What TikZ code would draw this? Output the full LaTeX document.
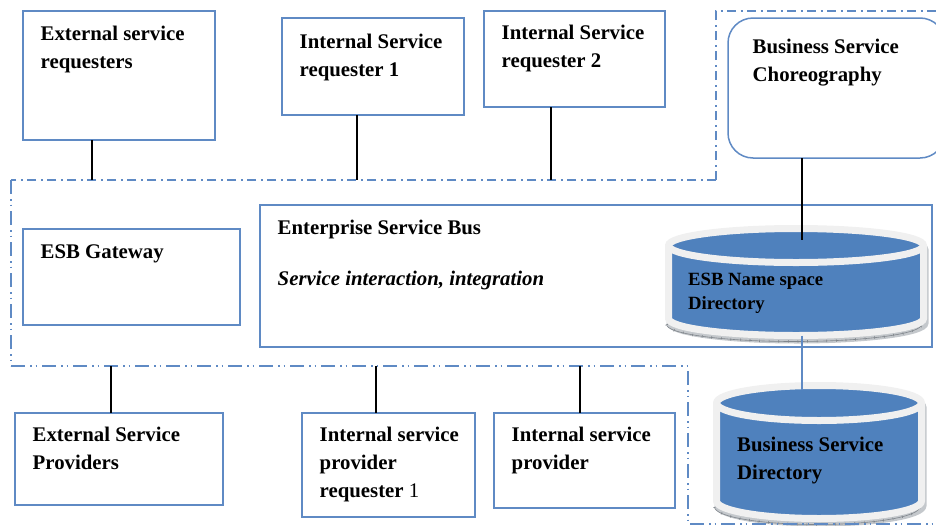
\documentclass[tikz,border=0pt]{standalone}
\usepackage{xcolor}
\usepackage{fontspec}
\setmainfont{Liberation Serif}
\usepackage{tikz}
\usetikzlibrary{positioning}
\definecolor{boxblue}{HTML}{5F8AC4}
\definecolor{canblue}{HTML}{4F81BD}
\definecolor{canrim}{HTML}{F0F0F0}
\definecolor{canedge}{HTML}{C4C8CC}
\definecolor{cantick}{HTML}{80868C}
% centre x, top y, x radius, y radius, side length, name
\newcommand{\dbcan}[6]{%
  \path[fill=canedge,draw=canedge,line width=7pt] (#1-#3+1.5,#2+4.5) arc[start angle=180,end angle=0,x radius=#3pt,y radius=#4pt] -- (#1+#3+1.5,#2+#5+4.5) arc[start angle=0,end angle=-180,x radius=#3pt,y radius=#4pt] -- cycle;
  \draw[cantick,line width=.6pt] (#1-#3-2,#2+#5+6) arc[start angle=180,end angle=360,x radius=#3pt,y radius=#4pt];
  \draw[cantick,line width=2.5pt,dash pattern=on .6pt off 9pt] (#1-#3-2,#2+#5+6) arc[start angle=180,end angle=360,x radius=#3pt,y radius=#4pt];
  \path[fill=canblue,draw=canrim,line width=7pt] (#1-#3,#2) arc[start angle=180,end angle=0,x radius=#3pt,y radius=#4pt] -- (#1+#3,#2+#5) arc[start angle=0,end angle=-180,x radius=#3pt,y radius=#4pt] -- cycle;
  \draw[canrim,line width=7pt] (#1-#3,#2) arc[start angle=180,end angle=360,x radius=#3pt,y radius=#4pt];
  \coordinate (#6 top) at (#1,#2-#4);
  \coordinate (#6 bottom) at (#1,#2+#5+#4);
}

\begin{document}
\begin{tikzpicture}[x=1pt,y=-1pt,
    bluebox/.style={draw=boxblue,line width=1.5pt,anchor=north west,inner sep=0pt,outer sep=0pt},
    boxtext/.style={inner sep=0pt,align=left,anchor=north west,font=\fontsize{20.8}{28}\selectfont\bfseries},
    cantext/.style={boxtext,font=\fontsize{18.7}{24}\selectfont\bfseries},
    link/.style={draw=black,line width=1.5pt},
    bluelink/.style={draw=boxblue,line width=1.5pt},
    frametop/.style={draw=boxblue,line width=1.7pt,dash pattern=on 9pt off 4.5pt on 2pt off 4.5pt},
    framebot/.style={draw=boxblue,line width=1.7pt,dash pattern=on 14pt off 5pt on 1.5pt off 4pt on 1.5pt off 5pt}]
  \useasboundingbox (0,0) rectangle (936,525);

  % requesters along the top
  \node[bluebox,minimum width=192pt,minimum height=129pt] (extreq) at (23,11) {};
  \node[bluebox,minimum width=182pt,minimum height=97pt] (intreqa) at (282,18) {};
  \node[bluebox,minimum width=181pt,minimum height=96pt] (intreqb) at (484,11) {};
  \node[bluebox,rounded corners=25pt,minimum width=217pt,minimum height=140pt] (chor) at (728,18) {};
  \node[boxtext,below right=15pt and 17.5pt of extreq.north west] (extreqtxt) {External service\\requesters};
  \node[boxtext,below right=16pt and 17.5pt of intreqa.north west] (intreqatxt) {Internal Service\\requester 1};
  \node[boxtext,below right=14pt and 17.5pt of intreqb.north west] (intreqbtxt) {Internal Service\\requester 2};
  \node[boxtext,below right=21pt and 24.5pt of chor.north west] (chortxt) {Business Service\\Choreography};

  % middle row
  \node[bluebox,minimum width=217pt,minimum height=96pt] (gate) at (23,229) {};
  \node[bluebox,minimum width=672pt,minimum height=142pt] (bus) at (260,205) {};
  \node[boxtext,below right=16pt and 17.5pt of gate.north west] (gatetxt) {ESB Gateway};
  \node[boxtext,below right=15pt and 17.5pt of bus.north west] (bustxt) {Enterprise Service Bus\\[23pt]\textit{Service interaction, integration}};

  % providers along the bottom
  \node[bluebox,minimum width=208pt,minimum height=92pt] (extprov) at (15,413) {};
  \node[bluebox,minimum width=173pt,minimum height=104pt] (intprova) at (302,413) {};
  \node[bluebox,minimum width=181pt,minimum height=95pt] (intprovb) at (494,413) {};
  \node[boxtext,below right=14pt and 17.5pt of extprov.north west] (extprovtxt) {External Service\\Providers};
  \node[boxtext,below right=14pt and 17.5pt of intprova.north west] (intprovatxt) {Internal service\\provider\\requester \textnormal{1}};
  \node[boxtext,below right=14pt and 17.5pt of intprovb.north west] (intprovbtxt) {Internal service\\provider};

  % directories
  \dbcan{796}{245.5}{127.5}{17}{73}{nsdir}
  \dbcan{819}{403}{102.5}{17.5}{98}{bsdir}
  \node[cantext] (nsdirtxt) at (688,273) {ESB Name space\\Directory};
  \node[boxtext] (bsdirtxt) at (737,437) {Business Service\\Directory};

  % dash-dotted frame
  \coordinate (ftop) at (11,180);
  \coordinate (fbot) at (11,366);
  \draw[frametop] (716,180) -- (ftop);
  \draw[frametop] (716,180) -- (716,11) -- (945,11);
  \draw[framebot] (ftop) -- (fbot);
  \draw[framebot] (fbot) -- (688,366) -- (688,524) -- (945,524);

  % connectors
  \coordinate (upa) at (92,180);
  \coordinate (upb) at (357,180);
  \coordinate (upc) at (551,180);
  \coordinate (upd) at (802,240);
  \coordinate (downa) at (111,366);
  \coordinate (downb) at (376,366);
  \coordinate (downc) at (580,366);
  \coordinate (downd) at (802,390);
  \draw[link] (upa |- extreq.south) -- (upa);
  \draw[link] (upb |- intreqa.south) -- (upb);
  \draw[link] (upc |- intreqb.south) -- (upc);
  \draw[link] (upd |- chor.south) -- (upd);
  \draw[link] (downa) -- (downa |- extprov.north);
  \draw[link] (downb) -- (downb |- intprova.north);
  \draw[link] (downc) -- (downc |- intprovb.north);
  \draw[bluelink] (downd |- nsdir bottom) -- (downd);
\end{tikzpicture}
\end{document}
